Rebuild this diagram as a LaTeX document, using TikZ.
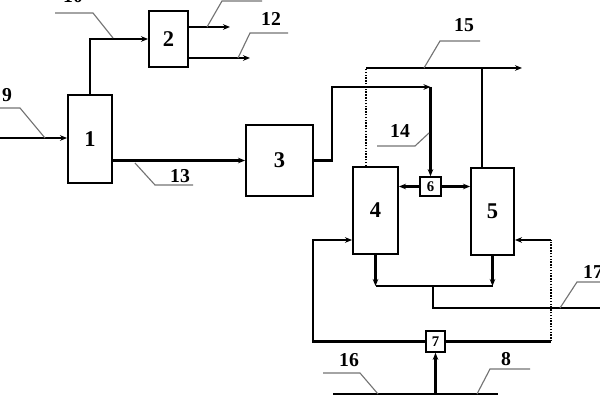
\documentclass[tikz,border=0pt]{standalone}
\usepackage{fontspec}
\setmainfont{Liberation Serif}
\usetikzlibrary{arrows.meta}

\begin{document}
\begin{tikzpicture}
[x=0.025cm,y=-0.025cm,
unit/.style={draw,black,line width=1.4pt,inner sep=0pt,font=\fontsize{16}{18}\selectfont\bfseries},
smallunit/.style={draw,black,line width=1.2pt,inner sep=0pt,font=\fontsize{10.5}{12}\selectfont\bfseries},
mainline/.style={black,line width=1.6pt},
flowline/.style={-{Stealth[length=5pt,width=4pt]},black,line width=1.6pt},
dotline/.style={black,line width=1.1pt,dash pattern=on 1pt off 1pt},
leader/.style={black!55,line width=0.8pt},
num/.style={font=\fontsize{14}{16}\selectfont\bfseries,inner sep=0pt}]

\useasboundingbox (0,0) rectangle (600,400);

% units
\node[unit,minimum width=1.1cm,minimum height=2.2cm](b1) at (90,139){1};
\node[unit,minimum width=0.975cm,minimum height=1.4cm](b2) at (168.5,39){2};
\node[unit,minimum width=1.675cm,minimum height=1.775cm](b3) at (279.5,160.5){3};
\node[unit,minimum width=1.125cm,minimum height=2.175cm](b4) at (375.5,210.5){4};
\node[unit,minimum width=1.075cm,minimum height=2.175cm](b5) at (492.5,211.5){5};
\node[smallunit,minimum width=0.525cm,minimum height=0.475cm](b6) at (430.5,186.5){6};
\node[smallunit,minimum width=0.475cm,minimum height=0.525cm](b7) at (435.5,341.5){7};

% feed 9 and unit 1
\coordinate (i9) at (0,138);
\draw[flowline] (i9) -- (i9 -| b1.west);
\draw[leader] (45,138) -- (20,108) -- (0,108);
\node[num](n9) at (7,95){9};

\draw[flowline] (b1.north) |- (b2.west);
\draw[leader] (113,38) -- (93,13) -- (55,13);
\node[num](n10) at (73,-4){10};

% unit 2 outlets
\coordinate (o11) at (230,27);
\coordinate (o12) at (250,58);
\draw[flowline] (b2.east |- o11) -- (o11);
\draw[flowline] (b2.east |- o12) -- (o12);
\draw[leader] (207,27) -- (222,1) -- (262,1);
\draw[leader] (238,58) -- (250,33) -- (288,33);
\node[num](n12) at (271,18.5){12};

% 13 to unit 3
\draw[flowline] (b1.east |- b3.west) -- (b3.west);
\draw[leader] (135,163) -- (155,185) -- (193,185);
\node[num](n13) at (180,176){13};

% unit 3 to unit 6
\coordinate (c3) at (332,87);
\coordinate (c6) at (430.5,87);
\draw[flowline] (b3.east) -- (b3.east -| c3) -- (c3) -- (c6);
\draw[flowline] (c6) -- (b6.north);
\draw[leader] (429,133) -- (415,146) -- (377,146);
\node[num](n14) at (400,131.5){14};

\draw[flowline] (b6.west) -- (b6.west -| b4.east);
\draw[flowline] (b6.east) -- (b6.east -| b5.west);

% overhead 15
\coordinate (t4) at (366,68);
\coordinate (t5) at (482,68);
\coordinate (o15) at (522,68);
\draw[dotline] (t4 |- b4.north) -- (t4);
\draw[flowline] (t4) -- (o15);
\draw[mainline] (t5 |- b5.north) -- (t5);
\draw[leader] (424,68) -- (440,41) -- (480,41);
\node[num](n15) at (464,25.5){15};

% bottoms of 4 and 5, outlet 17
\coordinate (m) at (433,286);
\coordinate (o17) at (605,308);
\draw[flowline] (b4.south) -- (b4.south |- m);
\draw[flowline] (b5.south) -- (b5.south |- m);
\draw[mainline] (b4.south |- m) -- (b5.south |- m);
\draw[mainline] (m) |- (o17);
\draw[leader] (560,308) -- (577,282) -- (605,282);
\node[num](n17) at (593,272){17};

% unit 7 loops
\coordinate (l7) at (313,240);
\coordinate (r7) at (551,240);
\draw[flowline] (b7.west) -| (l7) -- (l7 -| b4.west);
\draw[mainline] (b7.east) -- (b7.east -| r7);
\draw[dotline] (b7.east -| r7) -- (r7);
\draw[flowline] (r7) -- (r7 -| b5.east);

% feed 8 and 16
\coordinate (s16) at (333,394);
\coordinate (s8) at (498,394);
\draw[mainline] (s16) -- (s8);
\draw[flowline] (s16 -| b7.south) -- (b7.south);
\draw[leader] (378,394) -- (360,373) -- (323,373);
\node[num](n16) at (349,360){16};
\draw[leader] (477,394) -- (490,369) -- (530,369);
\node[num](n8) at (506,359.5){8};

\end{tikzpicture}
\end{document}
